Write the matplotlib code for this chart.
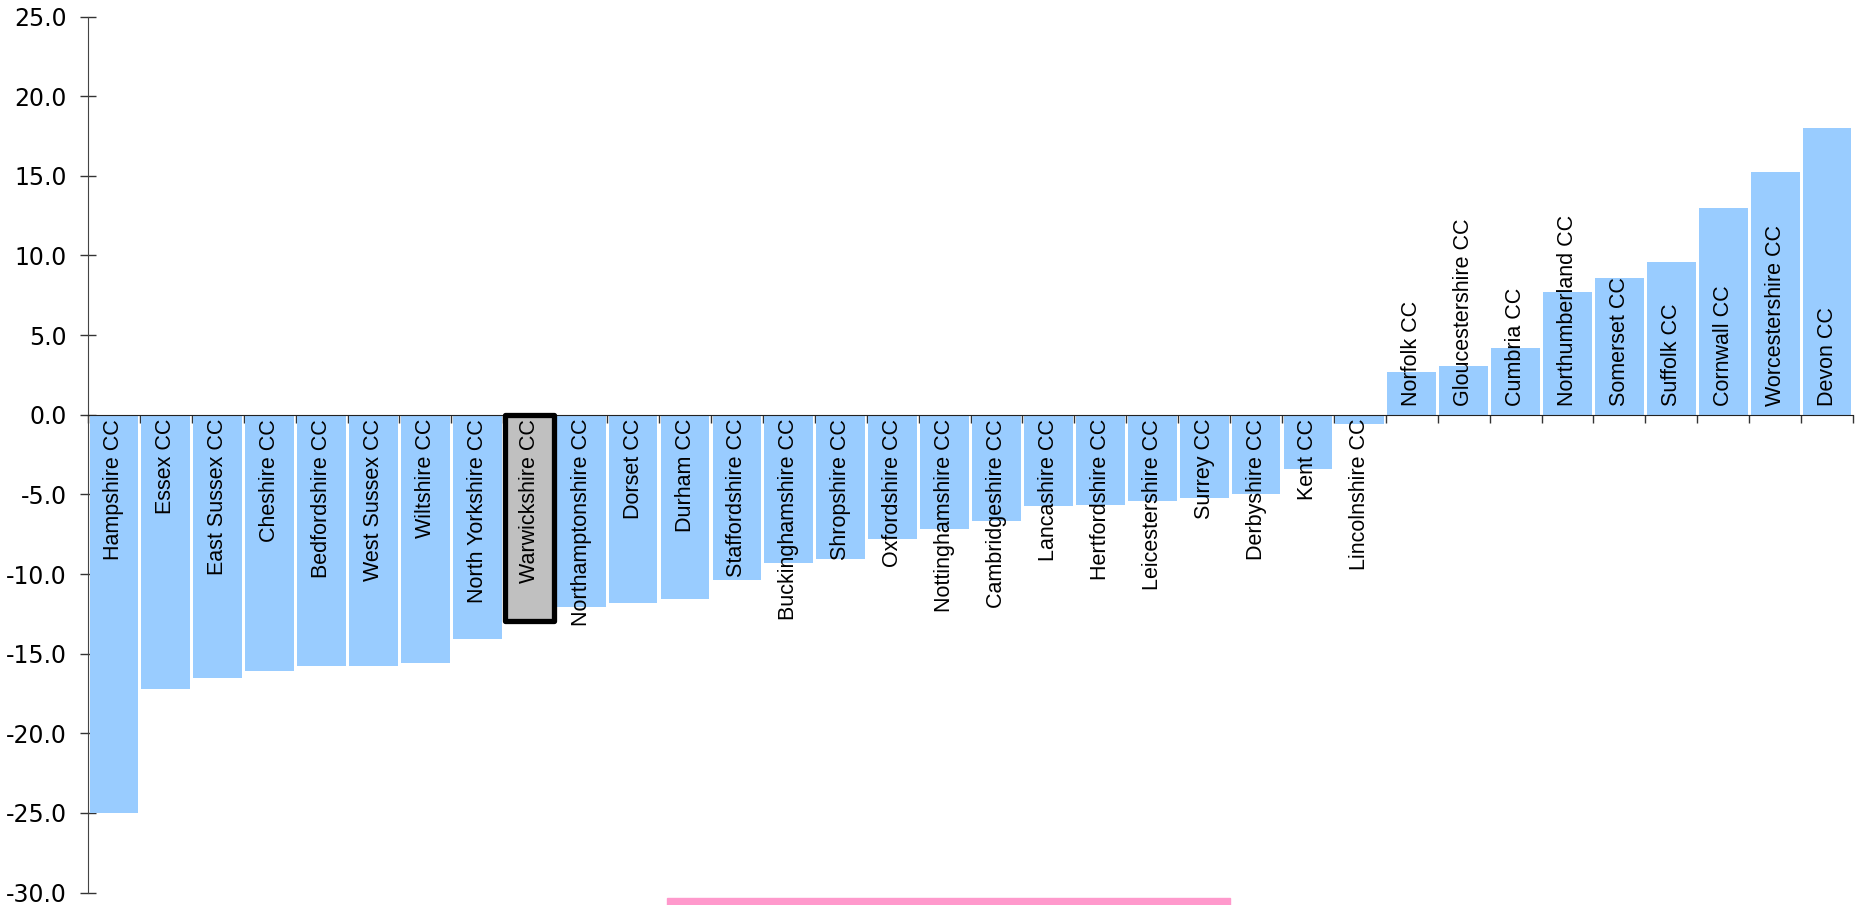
import matplotlib
matplotlib.use("Agg")
import matplotlib.pyplot as plt
from matplotlib.patches import Rectangle
import numpy as np

councils = ["Hampshire CC", "Essex CC", "East Sussex CC", "Cheshire CC", "Bedfordshire CC",
            "West Sussex CC", "Wiltshire CC", "North Yorkshire CC", "Warwickshire CC",
            "Northamptonshire CC", "Dorset CC", "Durham CC", "Staffordshire CC",
            "Buckinghamshire CC", "Shropshire CC", "Oxfordshire CC", "Nottinghamshire CC",
            "Cambridgeshire CC", "Lancashire CC", "Hertfordshire CC", "Leicestershire CC",
            "Surrey CC", "Derbyshire CC", "Kent CC", "Lincolnshire CC", "Norfolk CC",
            "Gloucestershire CC", "Cumbria CC", "Northumberland CC", "Somerset CC",
            "Suffolk CC", "Cornwall CC", "Worcestershire CC", "Devon CC"]
values = [-25.0, -17.2, -16.5, -16.1, -15.8, -15.8, -15.6, -14.05, -12.95,
          -12.05, -11.8, -11.55, -10.4, -9.3, -9.05, -7.8, -7.15, -6.65,
          -5.75, -5.65, -5.4, -5.25, -5.0, -3.4, -0.6, 2.7, 3.05, 4.2,
          7.7, 8.6, 9.6, 13.0, 15.25, 18.0]
highlight = "Warwickshire CC"
yticks = [-30, -25, -20, -15, -10, -5, 0, 5, 10, 15, 20, 25]

plt.rcParams['axes.unicode_minus'] = False

fig = plt.figure(figsize=(18.61, 9.05), dpi=100)
ax = fig.add_axes([0.0473, 0.0137, 0.9484, 0.968])

x = np.arange(len(councils))
colors = ["#c0c0c0" if c == highlight else "#99ccff" for c in councils]
bars = ax.bar(x, values, width=0.94, color=colors, linewidth=0, zorder=2)
for b, c in zip(bars, councils):
    if c == highlight:
        b.set_edgecolor("black")
        b.set_linewidth(3.8)
        b.set_joinstyle("round")
        b.set_zorder(4)

for xi, v, c in zip(x, values, councils):
    if v < 0:
        ax.annotate(c, (xi, 0), xytext=(0, -3), textcoords="offset points",
                    rotation=90, ha="center", va="top", fontsize=15.5,
                    family="Liberation Sans", zorder=5)
    else:
        ax.annotate(c, (xi, 0), xytext=(0, 6), textcoords="offset points",
                    rotation=90, ha="center", va="bottom", fontsize=15.5,
                    family="Liberation Sans", zorder=5)

ax.set_xlim(-0.5, len(councils) - 0.5)
ax.set_ylim(-30, 25)
ax.set_yticks(yticks)
ax.set_yticklabels(["%.1f" % t for t in yticks], fontsize=17, family="DejaVu Sans")
ax.tick_params(axis="y", direction="inout", length=11.5, width=1, color="#333333", pad=9.7)

ax.set_xticks([])
ax.set_xticks(np.arange(len(councils) + 1) - 0.5, minor=True)
ax.tick_params(axis="x", which="minor", direction="out", length=5.8, width=1, color="#333333")
ax.tick_params(axis="x", which="major", length=0, labelbottom=False)

ax.spines["top"].set_visible(False)
ax.spines["right"].set_visible(False)
ax.spines["bottom"].set_position(("data", 0))
ax.spines["bottom"].set_color("#222222")
ax.spines["bottom"].set_zorder(3)
ax.spines["left"].set_color("#444444")

# partly visible pink strip at the bottom edge
fig.patches.append(Rectangle((667 / 1861, 0), 563 / 1861, 7 / 905,
                             transform=fig.transFigure, color="#ff99cc", zorder=0))

fig.savefig("out.png", dpi=100)
